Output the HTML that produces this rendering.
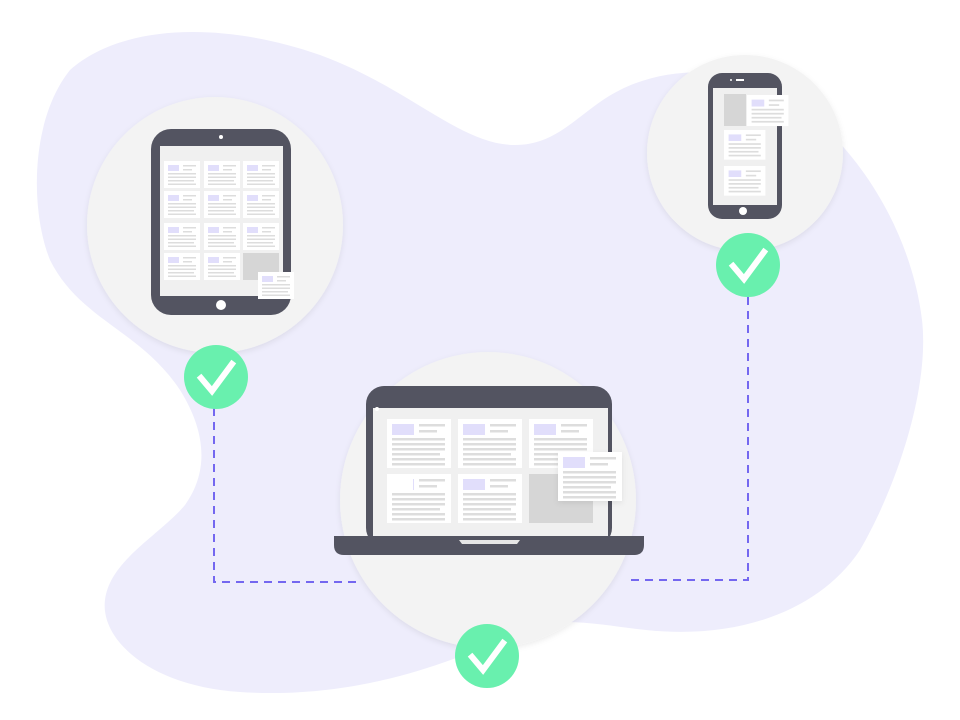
<!DOCTYPE html>
<html><head><meta charset="utf-8"><style>html,body{margin:0;padding:0;background:#fff}svg{display:block}</style></head>
<body>
<svg width="960" height="720" viewBox="0 0 960 720" xmlns="http://www.w3.org/2000/svg">
<defs>
<g id="card">
<rect x="0" y="0" width="36" height="27" fill="#fff"/>
<rect x="4" y="4" width="11" height="6" fill="#e1defb"/>
<rect x="19" y="4" width="13" height="1.5" fill="#ddd"/>
<rect x="19" y="8" width="9" height="1.5" fill="#ddd"/>
<rect x="4" y="12" width="28" height="1.5" fill="#ddd"/>
<rect x="4" y="15.5" width="28" height="1.5" fill="#ddd"/>
<rect x="4" y="19" width="26" height="1.5" fill="#ddd"/>
<rect x="4" y="22.5" width="28" height="1.5" fill="#ddd"/>
</g>
<g id="lcard">
<rect x="0" y="0" width="64" height="49" fill="#fff"/>
<rect x="5" y="5" width="22" height="11" fill="#e1defb"/>
<rect x="32" y="5" width="26" height="2.5" fill="#ddd"/>
<rect x="32" y="11" width="18" height="2.5" fill="#ddd"/>
<rect x="5" y="19" width="53" height="2.5" fill="#ddd"/>
<rect x="5" y="24" width="53" height="2.5" fill="#ddd"/>
<rect x="5" y="29" width="53" height="2.5" fill="#ddd"/>
<rect x="5" y="34" width="48" height="2.5" fill="#ddd"/>
<rect x="5" y="39" width="53" height="2.5" fill="#ddd"/>
<rect x="5" y="44" width="53" height="2.5" fill="#ddd"/>
</g>
<filter id="sh" x="-20%" y="-20%" width="140%" height="140%"><feDropShadow dx="0" dy="2" stdDeviation="3" flood-color="#000" flood-opacity="0.08"/></filter>
</defs>
<path d="M 70 70 C 120 25, 220 20, 320 55 C 410 88, 460 145, 515 145 C 560 145, 580 110, 620 90 C 660 70, 700 70, 740 75 C 840 110, 910 220, 922 320 C 930 390, 895 490, 860 550 C 820 610, 740 640, 646 630 C 600 625, 560 615, 520 630 C 460 660, 360 700, 240 692 C 150 686, 100 640, 105 600 C 110 560, 160 535, 185 505 C 210 470, 205 430, 180 390 C 140 330, 80 320, 50 260 C 30 210, 30 120, 70 70 Z" fill="#eeedfc"/>
<circle cx="215" cy="225" r="128" fill="#f3f3f3" filter="url(#sh)"/>
<circle cx="745" cy="153" r="98" fill="#f3f3f3" filter="url(#sh)"/>
<circle cx="488" cy="500" r="148" fill="#f3f3f3" filter="url(#sh)"/>
<g stroke="#7467f0" stroke-width="2" stroke-dasharray="8 6" fill="none">
<path d="M 214 408 V 582 H 360"/>
<path d="M 748 297 V 580 H 626"/>
</g>
<!-- tablet -->
<rect x="151" y="129" width="140" height="186" rx="20" fill="#535461"/>
<rect x="160" y="146" width="123" height="150" fill="#f0f0f0"/>
<circle cx="221" cy="137" r="2" fill="#fff"/>
<circle cx="221" cy="305" r="5" fill="#fff"/>
<use href="#card" x="164" y="161"/><use href="#card" x="204" y="161"/><use href="#card" x="243" y="161"/>
<use href="#card" x="164" y="191"/><use href="#card" x="204" y="191"/><use href="#card" x="243" y="191"/>
<use href="#card" x="164" y="223"/><use href="#card" x="204" y="223"/><use href="#card" x="243" y="223"/>
<use href="#card" x="164" y="253"/><use href="#card" x="204" y="253"/>
<rect x="243" y="253" width="36" height="27" fill="#d6d6d6"/>
<use href="#card" x="258" y="272"/>
<!-- phone -->
<rect x="708" y="73" width="74" height="146" rx="14" fill="#535461"/>
<rect x="713" y="88" width="64" height="117" fill="#f0f0f0"/>
<rect x="736" y="79" width="8" height="2" fill="#fff"/><circle cx="731" cy="80" r="1" fill="#fff"/>
<circle cx="743" cy="211" r="4" fill="#fff"/>
<rect x="724" y="94" width="22" height="32" fill="#d6d6d6"/>
<g transform="translate(747,95) scale(1.15)"><use href="#card"/></g>
<g transform="translate(724,130) scale(1.15 1.1)"><use href="#card"/></g>
<g transform="translate(724,166) scale(1.15 1.1)"><use href="#card"/></g>
<!-- laptop -->
<rect x="366" y="386" width="246" height="160" rx="18" fill="#535461"/>
<rect x="373" y="408" width="235" height="128" fill="#f0f0f0"/>
<circle cx="377" cy="409" r="2" fill="#fff"/>
<use href="#lcard" x="387" y="419"/><use href="#lcard" x="458" y="419"/><use href="#lcard" x="529" y="419"/>
<use href="#lcard" x="387" y="474"/><use href="#lcard" x="458" y="474"/>
<rect x="387" y="474" width="26" height="18" fill="#fff"/>
<rect x="529" y="474" width="64" height="49" fill="#d6d6d6"/>
<g filter="url(#sh)"><use href="#lcard" x="558" y="452"/></g>
<path d="M 334 536 H 644 V 545 Q 644 555 634 555 H 344 Q 334 555 334 545 Z" fill="#535461"/>
<path d="M 459 540 H 520 L 517 544 H 462 Z" fill="#e6e6e6"/>
<!-- checks -->
<g fill="#69f0ae"><circle cx="216" cy="377" r="32"/><circle cx="748" cy="265" r="32"/><circle cx="487" cy="656" r="32"/></g>
<g stroke="#fff" stroke-width="6" fill="none" stroke-linecap="square">
<path d="M 201 378 L 212 391 L 232 364"/>
<path d="M 733 266 L 744 279 L 764 252"/>
<path d="M 472 657 L 483 670 L 503 643"/>
</g>
</svg>
</body></html>
